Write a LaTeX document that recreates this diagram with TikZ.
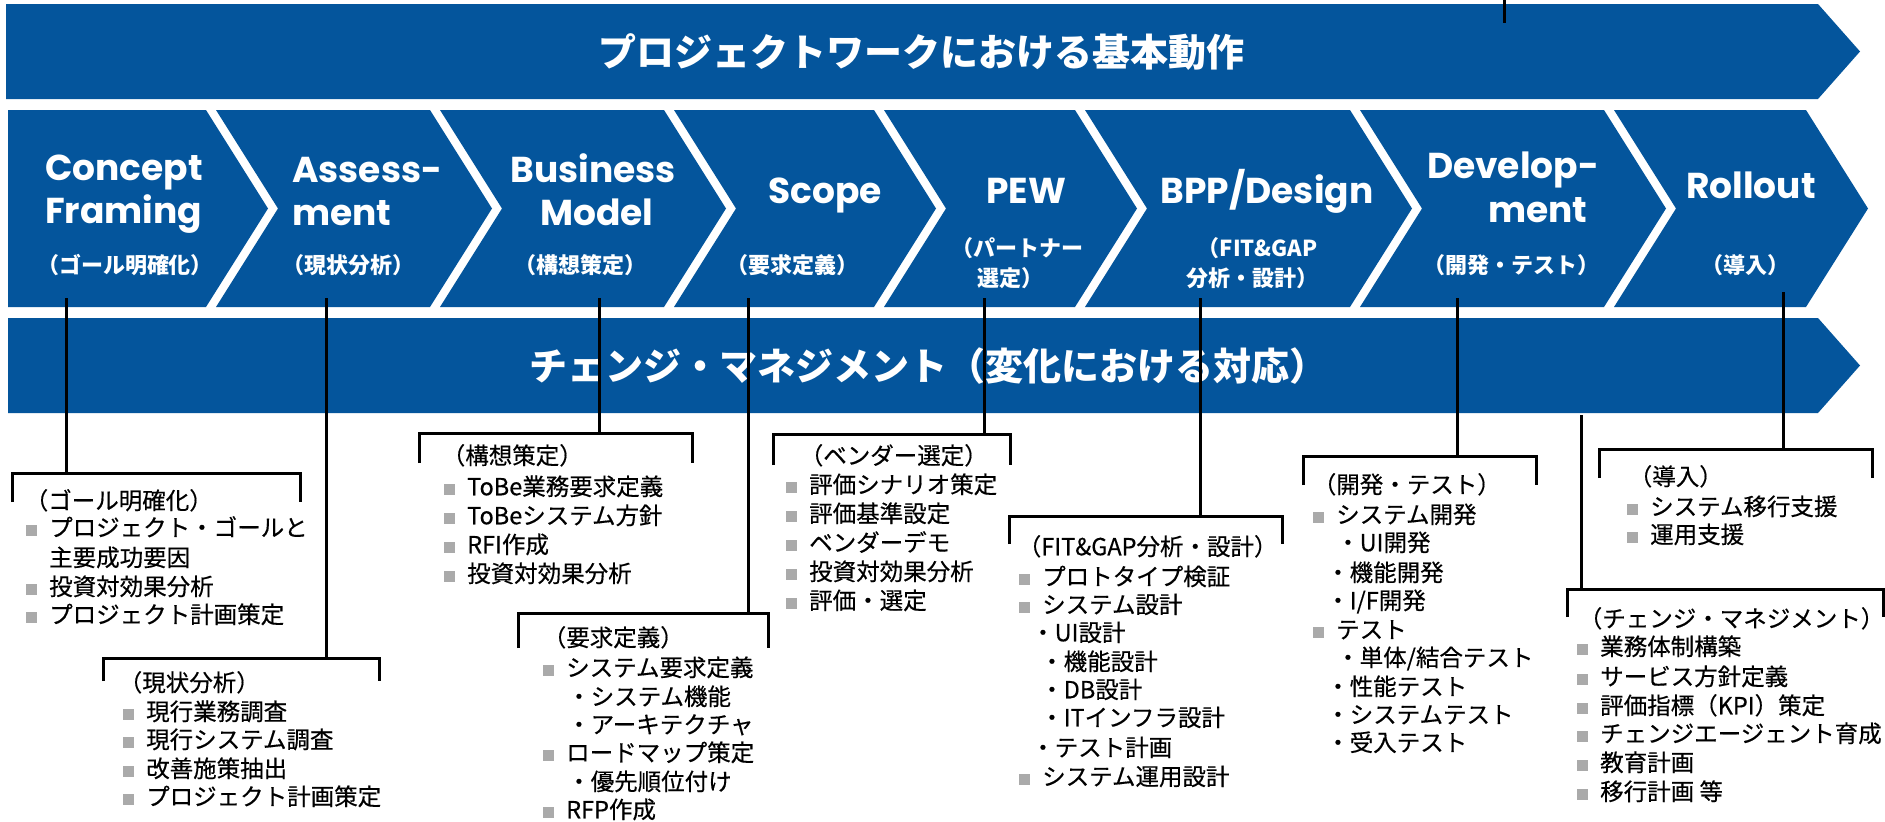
\documentclass[tikz,border=0pt]{standalone}
\usepackage{fontspec}
\newfontfamily\jp{Noto Sans CJK JP}
\newfontfamily\jpl{Noto Sans CJK JP}[FakeBold=0.4]
\newfontfamily\lat{Poppins}
\definecolor{pblue}{RGB}{4,85,156}
\definecolor{bulgray}{RGB}{170,170,170}
% narrow (proportional) brackets for headings
\newcommand\lp{{\kern-0.4em}（}
\newcommand\rp{）\kern-0.4em}
\tikzset{
  band/.style={fill=pblue},
  banner/.style={font=\jp\bfseries\fontsize{38}{44}\selectfont, text=white, inner sep=0pt, text height=33pt, text depth=5pt},
  ctitle/.style={font=\lat\bfseries\fontsize{36}{40}\selectfont, text=white, inner sep=0pt},
  csub/.style={font=\jp\bfseries\fontsize{22}{26}\selectfont, text=white, inner sep=0pt, text height=19pt, text depth=3pt},
  lst/.style={font=\jpl\fontsize{23.5}{28}\selectfont, text=black, inner sep=0pt, anchor=west, text height=20pt, text depth=3.5pt},
  bul/.style={fill=bulgray, inner sep=0pt, minimum size=11pt},
  link/.style={draw=black, line width=3pt},
}
% list of items: y / x / bullet? / text
\newcommand\itemlist[2]{%
  \foreach \yy/\xx/\bb/\txt [count=\ii] in {#2} {%
    \node[lst] (#1-\ii) at (\xx,\yy) {\txt};
    \ifnum\bb=1 \node[bul] (#1b-\ii) at (\xx-18,\yy+2) {};\fi
  }}
\begin{document}
\begin{tikzpicture}[x=1pt,y=-1pt]
\useasboundingbox (0,0) rectangle (1885,822);
\fill[white] (0,0) rectangle (1885,822);

% top banner and change-management band
\fill[band] (6,4) -- (1818,4) -- (1860,51.5) -- (1818,99) -- (6,99) -- cycle;
\node[banner] (top) at (921,52) {プロジェクトワークにおける基本動作};
\fill[band] (8,318) -- (1818,318) -- (1860,365.5) -- (1818,413) -- (8,413) -- cycle;
\node[banner] (chg) at (928,366) {チェンジ・マネジメント（変化における対応）};

% phase chevrons
\fill[band] (8,110) -- (206,110) -- (268,208.5) -- (206,307) -- (8,307) -- cycle;
\foreach \l/\r in {216/430, 440/664, 674/874, 884/1075, 1085/1350, 1360/1604, 1614/1806}
  \fill[band] (\l,110) -- (\r,110) -- (\r+62,208.5) -- (\r,307) -- (\l,307) -- (\l+62,208.5) -- cycle;

\node[ctitle, anchor=base west] (c1a) at (45,180) {Concept};
\node[ctitle, anchor=base west] (c1b) at (45,223) {Framing};
\node[csub] (c1c) at (125,265) {\lp ゴール明確化\rp};

\node[ctitle, anchor=base west] (c2a) at (292,182) {Assess-};
\node[ctitle, anchor=base west] (c2b) at (292,225) {ment};
\node[csub] (c2c) at (348,265) {\lp 現状分析\rp};

\node[ctitle, anchor=base] (c3a) at (593,182) {Business};
\node[ctitle, anchor=base] (c3b) at (597,225) {Model};
\node[csub] (c3c) at (580,265) {\lp 構想策定\rp};

\node[ctitle, anchor=base] (c4a) at (825,203) {Scope};
\node[csub] (c4c) at (792,265) {\lp 要求定義\rp};

\node[ctitle, anchor=base] (c5a) at (1026,203) {PEW};
\node[csub] (c5c) at (1022,248) {\lp パートナー};
\node[csub] (c5d) at (1006,278) {選定\rp};

\node[ctitle, anchor=base] (c6a) at (1267,203) {BPP/Design};
\node[csub] (c6c) at (1262,248) {\lp FIT\&GAP};
\node[csub] (c6d) at (1248,278) {分析・設計\rp};

\node[ctitle, anchor=base] (c7a) at (1513,178) {Develop-};
\node[ctitle, anchor=base] (c7b) at (1538,222) {ment};
\node[csub] (c7c) at (1511,265) {\lp 開発・テスト\rp};

\node[ctitle, anchor=base] (c8a) at (1751,198) {Rollout};
\node[csub] (c8c) at (1745,265) {\lp 導入\rp};

% connector stub at the top edge
\coordinate (u1) at (1504,0);
\coordinate (u2) at (1504,23);
\draw[link] (u1) -- (u2);

% connectors from phases to their bracket lists
\foreach \x/\s/\e [count=\ii] in {66/298/473, 326/298/658, 599/298/433, 748/298/613, 984/298/434, 1200/298/516, 1457/298/456, 1581/415/589, 1783/292/449} {
  \coordinate (s\ii) at (\x,\s);
  \coordinate (e\ii) at (\x,\e);
  \draw[link] (s\ii) -- (e\ii);
}

% brackets: left / right / top / tick end
\foreach \l/\r/\t/\b in {12/300/473/502, 103/379/658/681, 419/692/433/463, 518/768/613/648, 773/1010/434/465, 1009/1282/516/544, 1303/1536/456/485, 1567/1883/589/617, 1599/1872/449/478}
  \draw[link] (\l,\b) -- (\l,\t) -- (\r,\t) -- (\r,\b);

% list headings
\node[lst] (h1) at (34,501) {\lp ゴール明確化\rp};
\node[lst] (h2) at (128,683) {\lp 現状分析\rp};
\node[lst] (h3) at (451,456) {\lp 構想策定\rp};
\node[lst] (h4) at (552,638) {\lp 要求定義\rp};
\node[lst] (h5) at (809,456) {\lp ベンダー選定\rp};
\node[lst] (h6) at (1027,547) {\lp FIT\&GAP分析・設計\rp};
\node[lst] (h7) at (1322,485) {\lp 開発・テスト\rp};
\node[lst] (h8) at (1588,619) {\lp チェンジ・マネジメント\rp};
\node[lst] (h9) at (1638,477) {\lp 導入\rp};

% list items
\itemlist{g1}{528/49/1/プロジェクト・ゴールと, 558/49/0/主要成功要因, 587/49/1/投資対効果分析, 615/49/1/プロジェクト計画策定}
\itemlist{g2}{712/146/1/現行業務調査, 740/146/1/現行システム調査, 769/146/1/改善施策抽出, 797/146/1/プロジェクト計画策定}
\itemlist{g3}{487/467/1/ToBe業務要求定義, 516/467/1/ToBeシステム方針, 545/467/1/RFI作成, 574/467/1/投資対効果分析}
\itemlist{g4}{668/566/1/システム要求定義, 697/567/0/・システム機能, 725/567/0/・アーキテクチャ, 753/566/1/ロードマップ策定, 782/567/0/・優先順位付け, 810/566/1/RFP作成}
\itemlist{g5}{485/809/1/評価シナリオ策定, 514/809/1/評価基準設定, 543/809/1/ベンダーデモ, 572/809/1/投資対効果分析, 601/809/1/評価・選定}
\itemlist{g6}{577/1042/1/プロトタイプ検証, 605/1042/1/システム設計, 633/1031/0/・UI設計, 662/1040/0/・機能設計, 690/1040/0/・DB設計, 718/1040/0/・ITインフラ設計, 748/1031/0/・テスト計画, 777/1042/1/システム運用設計}
\itemlist{g7}{515/1336/1/システム開発, 543/1336/0/・UI開発, 573/1326/0/・機能開発, 601/1326/0/{・I/F開発}, 630/1336/1/テスト, 658/1336/0/{・単体/結合テスト}, 687/1326/0/・性能テスト, 715/1326/0/・システムテスト, 743/1326/0/・受入テスト}
\itemlist{g8}{647/1600/1/業務体制構築, 677/1600/1/サービス方針定義, 706/1600/1/評価指標（KPI）策定, 734/1600/1/チェンジエージェント育成, 763/1600/1/教育計画, 792/1600/1/移行計画 等}
\itemlist{g9}{507/1650/1/システム移行支援, 535/1650/1/運用支援}
\end{tikzpicture}
\end{document}
